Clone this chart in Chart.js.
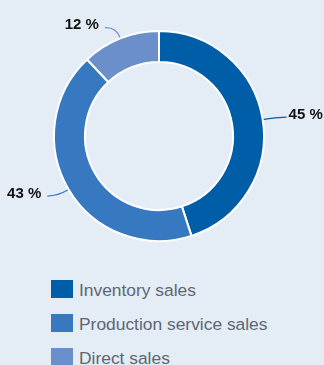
<!DOCTYPE html>
<html>
<head>
<meta charset="utf-8">
<script src="https://cdn.jsdelivr.net/npm/chart.js@4"></script>
<style>
  html, body { margin: 0; padding: 0; background: #e4ecf6; }
  body { width: 324px; height: 365px; position: relative; overflow: hidden; font-family: "Liberation Sans", Arial, sans-serif; }
  #wrap { position: absolute; left: 0; top: 0; width: 324px; height: 272px; }
  .legend { position: absolute; left: 51px; top: 280px; }
  .legend-item { display: flex; align-items: center; height: 18px; margin-bottom: 16px; }
  .legend-box { width: 22px; height: 18px; margin-right: 6px; flex: none; }
  .legend-text { font-size: 17.4px; color: #5d6771; white-space: nowrap; line-height: 18px; position: relative; top: 1px; }
</style>
</head>
<body>
<div id="wrap"><canvas id="pieChart" width="324" height="272"></canvas></div>
<div class="legend" id="legend"></div>
<script>
// ===== Data =====
const categories = ["Inventory sales", "Production service sales", "Direct sales"];
const shares = [45, 43, 12];

const sliceColors = ["#005ea8", "#3679c0", "#6a8fcb"];

// ===== Outside labels with leader lines =====
const leaderLabels = {
  id: "leaderLabels",
  afterDatasetsDraw(chart) {
    const ctx = chart.ctx;
    const arcs = chart.getDatasetMeta(0).data;
    ctx.save();
    ctx.font = "bold 15px 'Liberation Sans', Arial, sans-serif";
    arcs.forEach((arc, i) => {
      const { x, y, startAngle, endAngle, outerRadius } = arc.getProps(["x", "y", "startAngle", "endAngle", "outerRadius"], true);
      const mid = (startAngle + endAngle) / 2;
      const dx = Math.cos(mid), dy = Math.sin(mid);
      const p0 = { x: x + dx * (outerRadius + 1), y: y + dy * (outerRadius + 1) };
      const p1 = { x: p0.x + dx * 11, y: p0.y + dy * 11 };
      const right = dx >= 0;
      const end = { x: p1.x + (right ? 12 : -11), y: p1.y + (right ? -0.5 : 0.5) };

      ctx.strokeStyle = sliceColors[i];
      ctx.lineWidth = 1.2;
      ctx.beginPath();
      ctx.moveTo(p0.x, p0.y);
      ctx.quadraticCurveTo(p1.x, p1.y, end.x, end.y);
      ctx.stroke();

      ctx.fillStyle = "#111";
      ctx.textBaseline = "alphabetic";
      ctx.textAlign = right ? "left" : "right";
      ctx.fillText(shares[i] + " %", right ? end.x + 2 : end.x - 6, end.y + 1.5);
    });
    ctx.restore();
  },
};

document.addEventListener("DOMContentLoaded", () => {
  const ctx = document.getElementById("pieChart").getContext("2d");
  new Chart(ctx, {
    type: "doughnut",
    data: {
      labels: categories,
      datasets: [{
        data: shares,
        backgroundColor: sliceColors,
        borderColor: "#ffffff",
        borderWidth: 2,
      }],
    },
    options: {
      responsive: false,
      animation: false,
      cutout: "70.5%",
      layout: { padding: { left: 53, right: 59, top: 30, bottom: 30 } },
      plugins: {
        legend: { display: false },
        tooltip: { enabled: false },
      },
    },
    plugins: [leaderLabels],
  });

  // ===== Legend =====
  const legend = document.getElementById("legend");
  categories.forEach((name, i) => {
    const item = document.createElement("div");
    item.className = "legend-item";
    item.innerHTML = `<span class="legend-box" style="background:${sliceColors[i]}"></span><span class="legend-text">${name}</span>`;
    legend.appendChild(item);
  });
});
</script>
</body>
</html>
